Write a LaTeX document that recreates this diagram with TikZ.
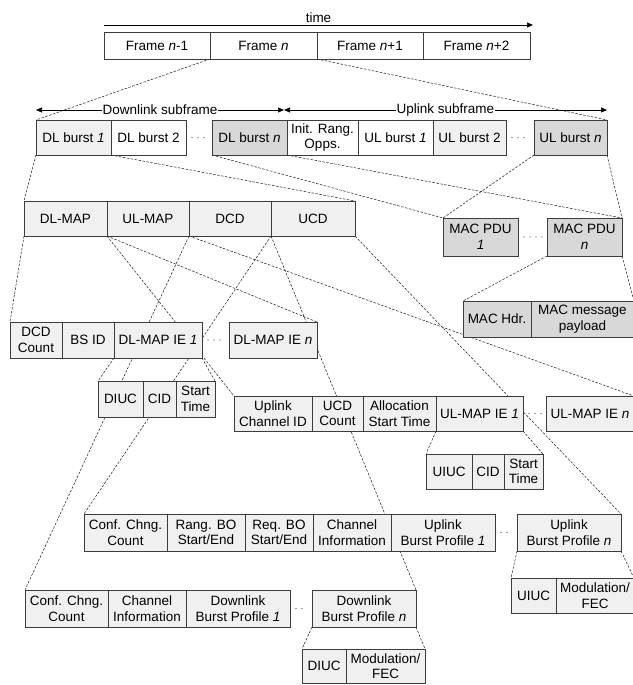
\documentclass[tikz,border=0pt]{standalone}
\usepackage{fontspec}
\setmainfont{Liberation Sans}
\usetikzlibrary{positioning, arrows.meta}
\definecolor{fldgray}{RGB}{240, 240, 240}
\definecolor{pdugray}{RGB}{216, 216, 216}
\definecolor{edgegray}{RGB}{60, 60, 60}
\pgfdeclarelayer{behind}
\pgfsetlayers{behind,main}

\begin{document}
\begin{tikzpicture}[
    x=1pt, y=-1pt,
    fld/.style={rectangle, draw=edgegray, line width=0.7pt, fill=fldgray,
                minimum height=35pt, inner sep=1pt, outer sep=0pt, align=center,
                font=\fontsize{13.5}{15.5}\selectfont},
    wd/.style={minimum width=#1pt},
    pdu/.style={fld, fill=pdugray},
    blank/.style={fld, fill=white},
    link/.style={draw=black!90, line width=0.5pt, dash pattern=on 2.5pt off 1.5pt},
    gap/.style={draw=black!75, line width=1.1pt, line cap=round,
                dash pattern=on 0pt off 6pt, shorten <=6pt, shorten >=5pt},
    span/.style={{Triangle[length=6pt,width=5pt]}-{Triangle[length=6pt,width=5pt]},
                 line width=0.6pt},
    lbl/.style={font=\fontsize{13.5}{15.5}\selectfont, inner sep=1pt}
  ]
    \useasboundingbox (0,0) rectangle (632,685);

    % time axis and frames
    \coordinate (t0) at (104,25);
    \coordinate (t1) at (533,25);
    \draw[-{Triangle[length=6pt,width=5pt]}, line width=0.6pt] (t0) -- node[lbl, above=1pt] (timelbl) {time} (t1);

    \node[blank, wd=106, minimum height=27pt, anchor=north west] (fm1) at (104,32) {Frame \textit{n}-1};
    \node[blank, wd=107, minimum height=27pt, right=0pt of fm1] (fn)  {Frame \textit{n}};
    \node[blank, wd=106, minimum height=27pt, right=0pt of fn]  (fp1) {Frame \textit{n}+1};
    \node[blank, wd=107, minimum height=27pt, right=0pt of fp1] (fp2) {Frame \textit{n}+2};

    % subframes
    \coordinate (sfl) at (36,110);
    \coordinate (sfm) at (284,110);
    \coordinate (sfr) at (607,110);
    \draw[span] (sfl) -- node[lbl, fill=white] (dllbl) {Downlink subframe} (sfm);
    \draw[span] (sfm) -- node[lbl, fill=white] (ullbl) {Uplink subframe} (sfr);

    \node[fld, wd=75, anchor=north west] (dlb1) at (36,120) {DL burst \textit{1}};
    \node[blank, wd=75, right=0pt of dlb1] (dlb2) {DL burst 2};
    \node[pdu, wd=75, anchor=north west] (dlbn) at (212,120) {DL burst \textit{n}};
    \node[blank, wd=71, right=0pt of dlbn] (init) {Init. Rang.\\Opps.};
    \node[blank, wd=75, right=0pt of init] (ulb1) {UL burst \textit{1}};
    \node[fld, wd=73, right=0pt of ulb1] (ulb2) {UL burst 2};
    \node[pdu, wd=73, anchor=north west] (ulbn) at (534,120) {UL burst \textit{n}};

    % broadcast messages
    \node[fld, wd=83, anchor=north west] (dlmap) at (24,201) {DL-MAP};
    \node[fld, wd=82, right=0pt of dlmap] (ulmap) {UL-MAP};
    \node[fld, wd=82, right=0pt of ulmap] (dcd)   {DCD};
    \node[fld, wd=84, right=0pt of dcd]   (ucd)   {UCD};

    % MAC PDUs
    \node[pdu, wd=75, minimum height=38pt, anchor=north west] (pdu1) at (443,218) {MAC PDU\\\textit{1}};
    \node[pdu, wd=75, minimum height=38pt, anchor=north west] (pdun) at (547,218) {MAC PDU\\\textit{n}};
    \node[pdu, wd=68, minimum height=36pt, anchor=north west] (machdr) at (463,301) {MAC Hdr.};
    \node[pdu, wd=103, minimum height=36pt, right=0pt of machdr] (macpay) {MAC message\\payload};

    % DL-MAP fields
    \node[fld, wd=52, minimum height=36pt, anchor=north west] (dcdcnt) at (10,322) {DCD\\Count};
    \node[fld, wd=52, minimum height=36pt, right=0pt of dcdcnt] (bsid)  {BS ID};
    \node[fld, wd=88, minimum height=36pt, right=0pt of bsid]   (dlie1) {DL-MAP IE \textit{1}};
    \node[fld, wd=88, minimum height=36pt, anchor=north west] (dlien) at (229,322) {DL-MAP IE \textit{n}};

    \node[fld, wd=45, minimum height=36pt, anchor=north west] (diuc) at (98,381) {DIUC};
    \node[fld, wd=33, minimum height=36pt, right=0pt of diuc] (dcid)   {CID};
    \node[fld, wd=39, minimum height=36pt, right=0pt of dcid] (dstart) {Start\\Time};

    % UL-MAP fields
    \node[fld, wd=78, anchor=north west] (ulchid) at (234,396) {Uplink\\Channel ID};
    \node[fld, wd=51, right=0pt of ulchid] (ucdcnt) {UCD\\Count};
    \node[fld, wd=73, right=0pt of ucdcnt] (alloc)  {Allocation\\Start Time};
    \node[fld, wd=87, right=0pt of alloc]  (ulie1)  {UL-MAP IE \textit{1}};
    \node[fld, wd=88, anchor=north west] (ulien) at (546,396) {UL-MAP IE \textit{n}};

    \node[fld, wd=46, anchor=north west] (uiuc) at (426,454) {UIUC};
    \node[fld, wd=32, right=0pt of uiuc] (ucid)   {CID};
    \node[fld, wd=39, right=0pt of ucid] (ustart) {Start\\Time};

    % UCD fields
    \node[fld, wd=83, minimum height=37pt, anchor=north west] (uconf) at (84,514) {Conf. Chng.\\Count};
    \node[fld, wd=78, minimum height=37pt, right=0pt of uconf] (rangbo) {Rang. BO\\Start/End};
    \node[fld, wd=68, minimum height=37pt, right=0pt of rangbo] (reqbo) {Req. BO\\Start/End};
    \node[fld, wd=78, minimum height=37pt, right=0pt of reqbo] (uchinf) {Channel\\Information};
    \node[fld, wd=104, minimum height=37pt, right=0pt of uchinf] (ubp1) {Uplink\\Burst Profile \textit{1}};
    \node[fld, wd=104, minimum height=37pt, anchor=north west] (ubpn) at (517,514) {Uplink\\Burst Profile \textit{n}};

    \node[fld, wd=45, anchor=north west] (uiuc2) at (511,578) {UIUC};
    \node[fld, wd=78, right=0pt of uiuc2] (umod) {Modulation/\\FEC};

    % DCD fields
    \node[fld, wd=83, minimum height=37pt, anchor=north west] (dconf) at (25,590) {Conf. Chng.\\Count};
    \node[fld, wd=78, minimum height=37pt, right=0pt of dconf] (dchinf) {Channel\\Information};
    \node[fld, wd=104, minimum height=37pt, right=0pt of dchinf] (dbp1) {Downlink\\Burst Profile \textit{1}};
    \node[fld, wd=104, minimum height=37pt, anchor=north west] (dbpn) at (312,590) {Downlink\\Burst Profile \textit{n}};

    \node[fld, wd=44, minimum height=34pt, anchor=north west] (diuc2) at (302,649) {DIUC};
    \node[fld, wd=79, minimum height=34pt, right=0pt of diuc2] (dmod) {Modulation/\\FEC};

    % ellipses between fields
    \draw[gap] (dlb2) -- (dlbn);
    \draw[gap] (ulb2) -- (ulbn);
    \draw[gap] (pdu1) -- (pdun);
    \draw[gap] (dlie1) -- (dlien);
    \draw[gap] (ulie1) -- (ulien);
    \draw[gap] (ubp1) -- (ubpn);
    \draw[gap] (dbp1) -- (dbpn);

    % zoom lines
    \begin{pgfonlayer}{behind}
    \draw[link] (fn.south west) -- (dlb1.north west);
    \draw[link] (fn.south east) -- (ulbn.north east);
    \draw[link] (dlb1.south west) -- (dlmap.north west);
    \draw[link] (dlb1.south east) -- (ucd.north east);
    \draw[link] (dlbn.south west) -- (pdu1.north west);
    \draw[link] (dlbn.south east) -- (pdun.north east);
    \draw[link] (ulbn.south west) -- (pdu1.north west);
    \draw[link] (ulbn.south east) -- (pdun.north east);
    \draw[link] (pdun.south west) -- (machdr.north west);
    \draw[link] (pdun.south east) -- (macpay.north east);
    \draw[link] (dlmap.south west) -- (dcdcnt.north west);
    \draw[link] (dlmap.south east) -- (dlien.north east);
    \draw[link] (ulmap.south west) -- (ulchid.north west);
    \draw[link] (ulmap.south east) -- (ulien.north east);
    \draw[link] (dcd.south west) -- (dconf.north west);
    \draw[link] (dcd.south east) -- (dbpn.north east);
    \draw[link] (ucd.south west) -- (uconf.north west);
    \draw[link] (ucd.south east) -- (ubpn.north east);
    \draw[link] (dlie1.south west) -- (diuc.north west);
    \draw[link] (dlie1.south east) -- (dstart.north east);
    \draw[link] (ulie1.south west) -- (uiuc.north west);
    \draw[link] (ulie1.south east) -- (ustart.north east);
    \draw[link] (ubpn.south west) -- (uiuc2.north west);
    \draw[link] (ubpn.south east) -- (umod.north east);
    \draw[link] (dbpn.south west) -- (diuc2.north west);
    \draw[link] (dbpn.south east) -- (dmod.north east);
    \end{pgfonlayer}
  \end{tikzpicture}
\end{document}
